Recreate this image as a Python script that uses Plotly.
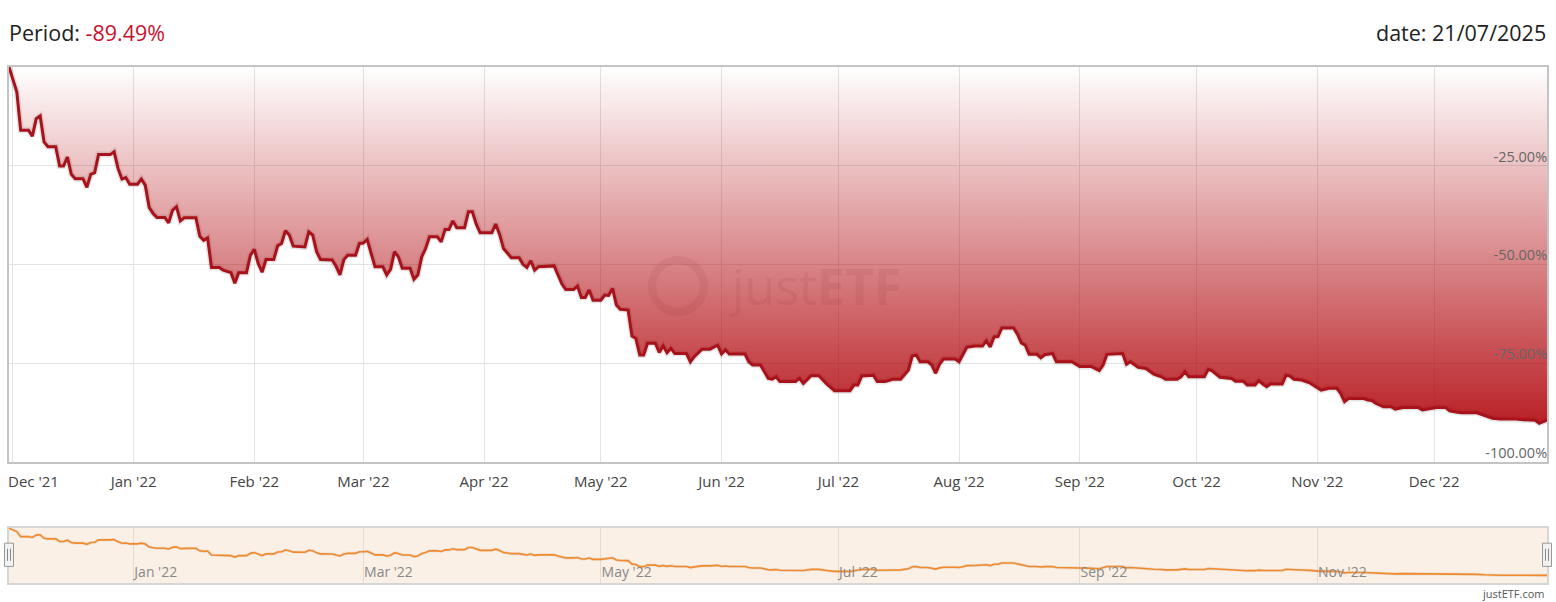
import plotly.graph_objects as go

dates = [
    "2021-11-30", "2021-12-02", "2021-12-03", "2021-12-05", "2021-12-06", "2021-12-07", "2021-12-08",
    "2021-12-09", "2021-12-10", "2021-12-12", "2021-12-13", "2021-12-14", "2021-12-15", "2021-12-16",
    "2021-12-17", "2021-12-19", "2021-12-20", "2021-12-21", "2021-12-22", "2021-12-23", "2021-12-26",
    "2021-12-27", "2021-12-28", "2021-12-29", "2021-12-30", "2021-12-31", "2022-01-02", "2022-01-03",
    "2022-01-04", "2022-01-05", "2022-01-06", "2022-01-07", "2022-01-09", "2022-01-10", "2022-01-11",
    "2022-01-12", "2022-01-13", "2022-01-14", "2022-01-17", "2022-01-18", "2022-01-19", "2022-01-20",
    "2022-01-21", "2022-01-23", "2022-01-24", "2022-01-26", "2022-01-27", "2022-01-28", "2022-01-30",
    "2022-01-31", "2022-02-01", "2022-02-02", "2022-02-03", "2022-02-04", "2022-02-06", "2022-02-07",
    "2022-02-08", "2022-02-09", "2022-02-10", "2022-02-11", "2022-02-14", "2022-02-15", "2022-02-16",
    "2022-02-17", "2022-02-18", "2022-02-21", "2022-02-22", "2022-02-23", "2022-02-24", "2022-02-25",
    "2022-02-27", "2022-02-28", "2022-03-01", "2022-03-02", "2022-03-03", "2022-03-04", "2022-03-06",
    "2022-03-07", "2022-03-08", "2022-03-09", "2022-03-10", "2022-03-11", "2022-03-13", "2022-03-14",
    "2022-03-15", "2022-03-16", "2022-03-17", "2022-03-18", "2022-03-20", "2022-03-21", "2022-03-22",
    "2022-03-23", "2022-03-24", "2022-03-25", "2022-03-27", "2022-03-28", "2022-03-29", "2022-03-30",
    "2022-03-31", "2022-04-03", "2022-04-04", "2022-04-05", "2022-04-06", "2022-04-07", "2022-04-08",
    "2022-04-10", "2022-04-11", "2022-04-12", "2022-04-13", "2022-04-14", "2022-04-15", "2022-04-19",
    "2022-04-20", "2022-04-21", "2022-04-22", "2022-04-24", "2022-04-25", "2022-04-26", "2022-04-27",
    "2022-04-28", "2022-04-29", "2022-05-01", "2022-05-02", "2022-05-03", "2022-05-04", "2022-05-05",
    "2022-05-06", "2022-05-08", "2022-05-09", "2022-05-10", "2022-05-11", "2022-05-12", "2022-05-13",
    "2022-05-15", "2022-05-16", "2022-05-17", "2022-05-18", "2022-05-19", "2022-05-20", "2022-05-23",
    "2022-05-24", "2022-05-25", "2022-05-27", "2022-05-29", "2022-05-31", "2022-06-01", "2022-06-02",
    "2022-06-03", "2022-06-07", "2022-06-08", "2022-06-09", "2022-06-11", "2022-06-13", "2022-06-14",
    "2022-06-15", "2022-06-16", "2022-06-20", "2022-06-21", "2022-06-22", "2022-06-24", "2022-06-26",
    "2022-06-28", "2022-06-30", "2022-07-04", "2022-07-05", "2022-07-06", "2022-07-07", "2022-07-10",
    "2022-07-11", "2022-07-13", "2022-07-15", "2022-07-17", "2022-07-19", "2022-07-20", "2022-07-21",
    "2022-07-22", "2022-07-24", "2022-07-25", "2022-07-26", "2022-07-27", "2022-07-28", "2022-07-31",
    "2022-08-01", "2022-08-02", "2022-08-03", "2022-08-05", "2022-08-07", "2022-08-08", "2022-08-09",
    "2022-08-10", "2022-08-11", "2022-08-12", "2022-08-15", "2022-08-16", "2022-08-17", "2022-08-18",
    "2022-08-19", "2022-08-21", "2022-08-22", "2022-08-23", "2022-08-25", "2022-08-26", "2022-08-30",
    "2022-08-31", "2022-09-01", "2022-09-04", "2022-09-06", "2022-09-07", "2022-09-08", "2022-09-12",
    "2022-09-13", "2022-09-14", "2022-09-16", "2022-09-18", "2022-09-20", "2022-09-22", "2022-09-23",
    "2022-09-26", "2022-09-27", "2022-09-28", "2022-09-29", "2022-10-03", "2022-10-04", "2022-10-05",
    "2022-10-07", "2022-10-10", "2022-10-11", "2022-10-13", "2022-10-14", "2022-10-16", "2022-10-17",
    "2022-10-18", "2022-10-19", "2022-10-20", "2022-10-23", "2022-10-24", "2022-10-25", "2022-10-26",
    "2022-10-28", "2022-10-30", "2022-10-31", "2022-11-02", "2022-11-04", "2022-11-06", "2022-11-07",
    "2022-11-08", "2022-11-09", "2022-11-13", "2022-11-14", "2022-11-15", "2022-11-16", "2022-11-18",
    "2022-11-20", "2022-11-21", "2022-11-23", "2022-11-27", "2022-11-28", "2022-11-30", "2022-12-02",
    "2022-12-04", "2022-12-05", "2022-12-07", "2022-12-08", "2022-12-12", "2022-12-14", "2022-12-16",
    "2022-12-18", "2022-12-22", "2022-12-24", "2022-12-27", "2022-12-28", "2022-12-30",
]

performance = [
    0.0, -6.3, -16.0, -16.0, -17.5, -13.1, -12.4,
    -19.0, -20.2, -20.2, -25.1, -25.1, -22.8, -27.2,
    -28.3, -28.3, -30.5, -27.2, -26.8, -22.2, -22.2,
    -21.5, -25.7, -28.4, -28.0, -29.7, -29.7, -28.4,
    -30.0, -35.6, -37.1, -38.1, -38.1, -39.5, -36.3,
    -35.4, -39.0, -38.2, -38.2, -42.9, -43.9, -43.3,
    -50.8, -50.8, -51.5, -52.1, -54.8, -52.1, -52.1,
    -47.7, -46.2, -49.8, -52.0, -48.8, -48.8, -45.3,
    -44.7, -41.5, -42.6, -45.4, -45.6, -41.8, -42.6,
    -46.8, -48.8, -48.9, -50.5, -52.7, -48.8, -47.7,
    -47.7, -44.7, -44.6, -43.7, -47.2, -50.6, -50.6,
    -52.7, -51.3, -46.8, -48.1, -51.0, -51.0, -53.8,
    -52.7, -48.1, -46.0, -43.0, -43.0, -44.3, -41.2,
    -41.2, -39.0, -40.7, -40.7, -36.7, -36.7, -39.8,
    -42.0, -42.0, -39.8, -42.4, -46.0, -47.1, -48.3,
    -48.3, -50.0, -50.8, -49.1, -51.5, -50.6, -50.4,
    -52.7, -55.0, -56.4, -56.4, -55.5, -58.4, -58.4,
    -56.5, -59.1, -59.1, -57.8, -57.9, -56.1, -60.3,
    -61.4, -61.6, -68.2, -68.8, -73.0, -73.0, -70.0,
    -70.0, -72.3, -70.7, -72.4, -71.3, -72.6, -72.6,
    -74.7, -73.4, -71.5, -71.5, -70.5, -72.7, -71.7,
    -72.7, -72.7, -74.7, -75.5, -75.5, -78.9, -79.1,
    -78.5, -79.7, -79.7, -78.9, -80.2, -78.2, -78.2,
    -80.3, -82.0, -82.0, -80.6, -80.6, -78.3, -78.1,
    -79.7, -79.7, -79.1, -79.1, -76.8, -73.2, -73.0,
    -74.7, -74.7, -75.5, -77.6, -75.3, -74.0, -74.0,
    -74.7, -73.0, -71.0, -70.7, -70.7, -69.4, -70.9,
    -68.4, -68.3, -66.1, -66.1, -67.7, -69.9, -70.5,
    -72.8, -72.8, -73.7, -72.9, -72.6, -74.7, -74.7,
    -75.3, -75.9, -75.9, -76.9, -75.5, -72.8, -72.6,
    -75.3, -74.7, -76.1, -76.4, -77.8, -78.5, -79.1,
    -79.1, -78.5, -77.2, -78.5, -78.5, -76.6, -77.0,
    -78.6, -78.9, -79.6, -79.6, -80.6, -80.6, -79.5,
    -80.3, -81.0, -80.3, -80.3, -78.1, -78.3, -79.1,
    -79.3, -80.0, -80.6, -81.9, -81.4, -81.4, -82.7,
    -84.8, -84.0, -84.0, -84.4, -84.5, -85.2, -86.1,
    -86.1, -86.7, -86.3, -86.3, -86.9, -86.5, -86.2,
    -86.3, -87.1, -87.5, -87.6, -87.6, -88.4, -89.0,
    -89.2, -89.2, -89.4, -89.5, -90.3, -89.49,
]

main_tick_dates = ["2021-12-01", "2022-01-01", "2022-02-01", "2022-03-01", "2022-04-01", "2022-05-01",
                   "2022-06-01", "2022-07-01", "2022-08-01", "2022-09-01", "2022-10-01", "2022-11-01",
                   "2022-12-01"]
main_tick_labels = ["", "Jan '22", "Feb '22", "Mar '22", "Apr '22", "May '22", "Jun '22", "Jul '22",
                    "Aug '22", "Sep '22", "Oct '22", "Nov '22", "Dec '22"]
first_tick_label = "Dec '21"
nav_tick_dates = ["2022-01-01", "2022-03-01", "2022-05-01", "2022-07-01", "2022-09-01", "2022-11-01"]
nav_tick_labels = ["Jan '22", "Mar '22", "May '22", "Jul '22", "Sep '22", "Nov '22"]
y_tick_values = [-25, -50, -75, -100]
y_tick_labels = ["-25.00%", "-50.00%", "-75.00%", "-100.00%"]

period_return = "-89.49%"
as_of_date = "21/07/2025"

FONT = "Open Sans"
LINE_RED = "#a8121a"
NAV_ORANGE = "#f08a2c"

fig = go.Figure()

# soft shadow under the line
fig.add_trace(go.Scatter(
    x=dates, y=performance, mode="lines",
    line=dict(width=6, color="rgba(0,0,0,0.10)"), hoverinfo="skip", showlegend=False,
    xaxis="x", yaxis="y",
))
# baseline at 0% so the area is filled between the line and 0
fig.add_trace(go.Scatter(
    x=[dates[0], dates[-1]], y=[0, 0], mode="lines",
    line=dict(width=0, color="rgba(0,0,0,0)"), hoverinfo="skip", showlegend=False,
    xaxis="x", yaxis="y",
))
fig.add_trace(go.Scatter(
    x=dates, y=performance, mode="lines", fill="tonexty",
    fillgradient=dict(
        type="vertical", start=-100, stop=0,
        colorscale=[[0, "rgba(176,4,10,0.98)"], [1, "rgba(176,4,10,0.0)"]],
    ),
    line=dict(width=3, color=LINE_RED), showlegend=False,
    xaxis="x", yaxis="y",
))

# navigator series
fig.add_trace(go.Scatter(
    x=dates, y=performance, mode="lines",
    line=dict(width=3, color="rgba(120,80,40,0.12)"), hoverinfo="skip", showlegend=False,
    xaxis="x2", yaxis="y2",
))
fig.add_trace(go.Scatter(
    x=dates, y=performance, mode="lines",
    line=dict(width=1.6, color=NAV_ORANGE), showlegend=False,
    xaxis="x2", yaxis="y2",
))

x_range = [dates[0], dates[-1]]

fig.update_layout(
    width=1556, height=602,
    margin=dict(l=7, r=8, t=67, b=19),
    paper_bgcolor="white", plot_bgcolor="white",
    font=dict(family=FONT, color="#333333"),
    xaxis=dict(
        domain=[0, 1], range=x_range, type="date",
        tickvals=main_tick_dates, ticktext=main_tick_labels,
        showgrid=True, gridcolor="#e3e3e3", gridwidth=1,
        ticks="", ticklabelstandoff=6,
        tickfont=dict(family=FONT, size=15, color="#444444"),
        showline=True, linecolor="#c4c4c4", linewidth=1.5, mirror=True,
        zeroline=False, anchor="y",
    ),
    yaxis=dict(
        domain=[0.2351, 1], range=[-100, 0],
        side="right", ticklabelposition="inside", ticklabeloverflow="allow",
        tickvals=y_tick_values, ticktext=y_tick_labels,
        ticklabelshift=-9,
        showgrid=True, gridcolor="#e3e3e3", gridwidth=1,
        tickfont=dict(family=FONT, size=14.5, color="#666666"),
        showline=True, linecolor="#c4c4c4", linewidth=1.5, mirror=True,
        zeroline=False, ticks="", anchor="x",
    ),
    xaxis2=dict(
        domain=[0, 1], range=x_range, type="date",
        tickvals=nav_tick_dates, ticktext=nav_tick_labels,
        ticklabelposition="inside right",
        showgrid=True, gridcolor="#e6dbd0", gridwidth=1,
        ticks="",
        tickfont=dict(family=FONT, size=14, color="#888888"),
        showline=True, linecolor="#d6d6d6", linewidth=1.5, mirror=True,
        zeroline=False, anchor="y2",
    ),
    yaxis2=dict(
        domain=[0, 0.1072], range=[-104, 1],
        showticklabels=False, showgrid=False, zeroline=False,
        showline=True, linecolor="#d6d6d6", linewidth=1.5, mirror=True,
        anchor="x2",
    ),
    hovermode=False,
)

shapes = [
    # navigator background
    dict(type="rect", xref="x2 domain", yref="y2 domain", x0=0, x1=1, y0=0, y1=1,
         fillcolor="#fbf0e6", line=dict(width=0), layer="below"),
    # watermark ring
    dict(type="circle", xref="x domain", yref="y domain",
         xsizemode="pixel", ysizemode="pixel", xanchor=0.435, yanchor=0.445,
         x0=-26, x1=26, y0=-26, y1=26,
         line=dict(width=8, color="rgba(110,30,30,0.08)"), layer="above"),
]
# navigator handles
for anchor in (0.0, 1.0):
    shapes.append(dict(type="rect", xref="x2 domain", yref="y2 domain",
                       xsizemode="pixel", xanchor=anchor, x0=-4.5, x1=4.5, y0=0.3, y1=0.72,
                       fillcolor="#f2f2f2", line=dict(width=1, color="#999999"), layer="above"))
    for dx in (-1.5, 1.5):
        shapes.append(dict(type="line", xref="x2 domain", yref="y2 domain",
                           xsizemode="pixel", xanchor=anchor, x0=dx, x1=dx, y0=0.4, y1=0.62,
                           line=dict(width=1, color="#888888"), layer="above"))
fig.update_layout(shapes=shapes)

fig.add_annotation(
    xref="paper", yref="paper", x=0, y=1, xanchor="left", yanchor="middle",
    xshift=-2, yshift=35, showarrow=False,
    text=f"Period: <span style='color:#c8102e'>{period_return}</span>",
    font=dict(family=FONT, size=21.5, color="#222222"),
)
fig.add_annotation(
    xref="paper", yref="paper", x=1, y=1, xanchor="right", yanchor="middle",
    xshift=1, yshift=35, showarrow=False,
    text=f"date: {as_of_date}",
    font=dict(family=FONT, size=21.5, color="#222222"),
)
# first month label (kept inside the chart at the left edge)
fig.add_annotation(
    xref="x domain", yref="y domain", x=0, y=0, xanchor="left", yanchor="middle",
    xshift=-3, yshift=-19, showarrow=False, text=first_tick_label,
    font=dict(family=FONT, size=15, color="#444444"),
)
fig.add_annotation(
    xref="x domain", yref="y domain", x=0.524, y=0.445, xanchor="center", yanchor="middle",
    showarrow=False, text="just<b>ETF</b>",
    font=dict(family=FONT, size=50, color="rgba(110,30,30,0.08)"),
)
fig.add_annotation(
    xref="paper", yref="paper", x=1, y=0, xanchor="right", yanchor="middle",
    yshift=-10, showarrow=False, text="justETF.com",
    font=dict(family=FONT, size=11, color="#555555"),
)

fig.write_html("out.html", config={"displayModeBar": False},
               post_script="document.body.style.margin='0px';")
